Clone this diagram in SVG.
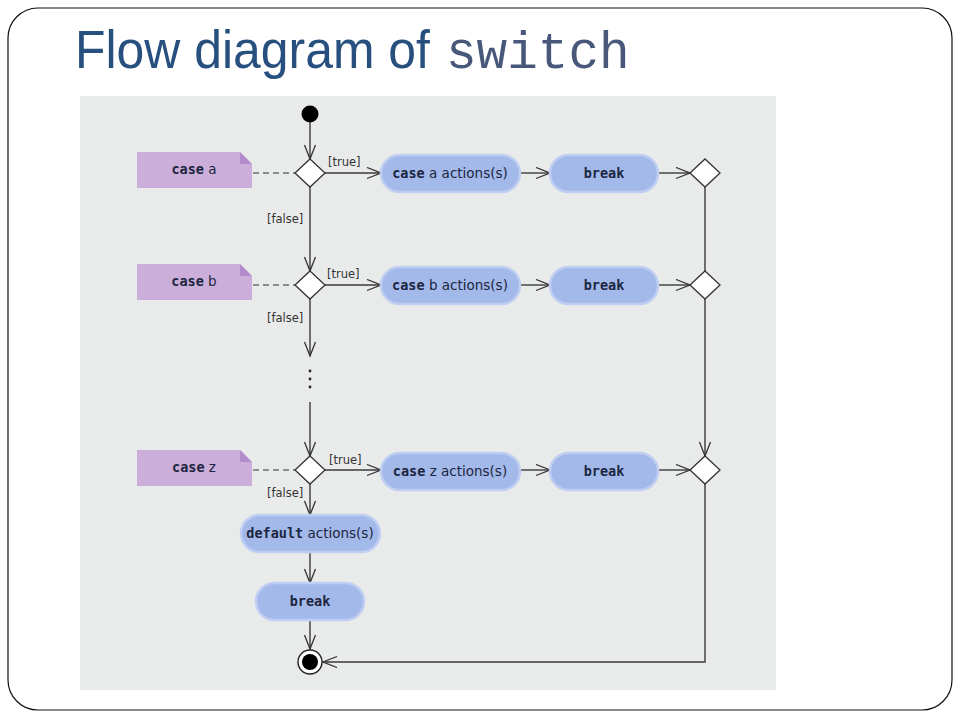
<svg xmlns="http://www.w3.org/2000/svg" width="960" height="720" viewBox="0 0 960 720">
<defs>
<marker id="arr" markerUnits="userSpaceOnUse" markerWidth="18" markerHeight="14" refX="15" refY="6" orient="auto">
<path d="M1,0.5 L15,6 L1,11.5" fill="none" stroke="#333" stroke-width="1.3"/>
</marker>
<style>
.frame{fill:#fff;stroke:#111;stroke-width:1.2}
.panel{fill:#E9EBEA}
.ln{fill:none;stroke:#3a3a3a;stroke-width:1.4}
.dash{fill:none;stroke:#333;stroke-width:1.2;stroke-dasharray:6,4}
.dia{fill:#fff;stroke:#333;stroke-width:1.3}
.pill{fill:#A3B9EA;stroke:#BFCEF2;stroke-width:2.5}
.note{fill:#CBAED9}
.fold{fill:#B58CCB}
.lbl{font-family:"DejaVu Sans",sans-serif;font-size:11.5px;fill:#333}
.t{font-family:"DejaVu Sans",sans-serif;font-size:13.5px;fill:#1c2540}
.m{font-family:"DejaVu Sans Mono",monospace;font-weight:bold;font-size:13.5px;fill:#1c2540}
</style>
</defs>
<rect class="frame" x="8" y="8" width="944" height="702" rx="30"/>
<text x="75" y="68" font-family="Liberation Sans, sans-serif" font-size="54" fill="#27507F" textLength="355" lengthAdjust="spacingAndGlyphs">Flow diagram of</text>
<text x="446" y="68" font-family="Liberation Mono, monospace" font-size="51" fill="#48587a">switch</text>
<rect class="panel" x="80" y="96" width="696" height="594"/>

<g id="connectors">
<line class="ln" x1="310" y1="122" x2="310" y2="159" marker-end="url(#arr)"/>
<line class="ln" x1="310" y1="187" x2="310" y2="271" marker-end="url(#arr)"/>
<line class="ln" x1="310" y1="299" x2="310" y2="356" marker-end="url(#arr)"/>
<circle cx="310" cy="371" r="1.4" fill="#222"/>
<circle cx="310" cy="379" r="1.4" fill="#222"/>
<circle cx="310" cy="387" r="1.4" fill="#222"/>
<line class="ln" x1="310" y1="402" x2="310" y2="456" marker-end="url(#arr)"/>
<line class="ln" x1="310" y1="484" x2="310" y2="515" marker-end="url(#arr)"/>
<line class="ln" x1="310" y1="553" x2="310" y2="583" marker-end="url(#arr)"/>
<line class="ln" x1="310" y1="621" x2="310" y2="649" marker-end="url(#arr)"/>

<line class="dash" x1="253" y1="173" x2="295" y2="173"/>
<line class="dash" x1="253" y1="285" x2="295" y2="285"/>
<line class="dash" x1="253" y1="470" x2="295" y2="470"/>

<line class="ln" x1="325" y1="173" x2="381" y2="173" marker-end="url(#arr)"/>
<line class="ln" x1="520" y1="173" x2="550" y2="173" marker-end="url(#arr)"/>
<line class="ln" x1="658" y1="173" x2="690" y2="173" marker-end="url(#arr)"/>
<line class="ln" x1="325" y1="285" x2="381" y2="285" marker-end="url(#arr)"/>
<line class="ln" x1="520" y1="285" x2="550" y2="285" marker-end="url(#arr)"/>
<line class="ln" x1="658" y1="285" x2="690" y2="285" marker-end="url(#arr)"/>
<line class="ln" x1="325" y1="470" x2="381" y2="470" marker-end="url(#arr)"/>
<line class="ln" x1="520" y1="470" x2="550" y2="470" marker-end="url(#arr)"/>
<line class="ln" x1="658" y1="470" x2="690" y2="470" marker-end="url(#arr)"/>

<line class="ln" x1="705" y1="187" x2="705" y2="271"/>
<line class="ln" x1="705" y1="299" x2="705" y2="456" marker-end="url(#arr)"/>
<polyline class="ln" points="705,484 705,662 323,662" marker-end="url(#arr)"/>

<text class="lbl" x="328" y="166">[true]</text>
<text class="lbl" x="267" y="223">[false]</text>
<text class="lbl" x="327" y="278">[true]</text>
<text class="lbl" x="267" y="322">[false]</text>
<text class="lbl" x="329" y="464">[true]</text>
<text class="lbl" x="267" y="497">[false]</text>
</g>

<g id="start"><circle cx="310" cy="114" r="8.5" fill="#000"/></g>

<g id="dec1"><polygon class="dia" points="310,159 325,173 310,187 295,173"/></g>
<g id="dec2"><polygon class="dia" points="310,271 325,285 310,299 295,285"/></g>
<g id="dec3"><polygon class="dia" points="310,456 325,470 310,484 295,470"/></g>
<g id="merge1"><polygon class="dia" points="705,159 720,173 705,187 690,173"/></g>
<g id="merge2"><polygon class="dia" points="705,271 720,285 705,299 690,285"/></g>
<g id="merge3"><polygon class="dia" points="705,456 720,470 705,484 690,470"/></g>

<g id="noteA">
<polygon class="note" points="137,152 240,152 252,164 252,188 137,188"/>
<polygon class="fold" points="240,152 252,164 240,164"/>
<text x="194" y="174" text-anchor="middle"><tspan class="m">case</tspan><tspan class="t"> a</tspan></text>
</g>
<g id="noteB">
<polygon class="note" points="137,264 240,264 252,276 252,300 137,300"/>
<polygon class="fold" points="240,264 252,276 240,276"/>
<text x="194" y="286" text-anchor="middle"><tspan class="m">case</tspan><tspan class="t"> b</tspan></text>
</g>
<g id="noteZ">
<polygon class="note" points="137,450 240,450 252,462 252,486 137,486"/>
<polygon class="fold" points="240,450 252,462 240,462"/>
<text x="194" y="472" text-anchor="middle"><tspan class="m">case</tspan><tspan class="t"> z</tspan></text>
</g>

<g id="actA">
<rect class="pill" x="381" y="155" width="139" height="37" rx="18.5"/>
<text x="450" y="178" text-anchor="middle"><tspan class="m">case</tspan><tspan class="t"> a actions(s)</tspan></text>
</g>
<g id="breakA">
<rect class="pill" x="550" y="155" width="108" height="37" rx="18.5"/>
<text class="m" x="604" y="178" text-anchor="middle">break</text>
</g>
<g id="actB">
<rect class="pill" x="381" y="267" width="139" height="37" rx="18.5"/>
<text x="450" y="290" text-anchor="middle"><tspan class="m">case</tspan><tspan class="t"> b actions(s)</tspan></text>
</g>
<g id="breakB">
<rect class="pill" x="550" y="267" width="108" height="37" rx="18.5"/>
<text class="m" x="604" y="290" text-anchor="middle">break</text>
</g>
<g id="actZ">
<rect class="pill" x="381" y="453" width="139" height="37" rx="18.5"/>
<text x="450" y="476" text-anchor="middle"><tspan class="m">case</tspan><tspan class="t"> z actions(s)</tspan></text>
</g>
<g id="breakZ">
<rect class="pill" x="550" y="453" width="108" height="37" rx="18.5"/>
<text class="m" x="604" y="476" text-anchor="middle">break</text>
</g>
<g id="actDefault">
<rect class="pill" x="241" y="515" width="139" height="37" rx="18.5"/>
<text x="310" y="538" text-anchor="middle"><tspan class="m">default</tspan><tspan class="t"> actions(s)</tspan></text>
</g>
<g id="breakDefault">
<rect class="pill" x="256" y="583" width="108" height="37" rx="18.5"/>
<text class="m" x="310" y="606" text-anchor="middle">break</text>
</g>

<g id="end">
<circle cx="310" cy="662" r="12" fill="#fff" stroke="#222" stroke-width="1.4"/>
<circle cx="310" cy="662" r="8" fill="#000"/>
</g>
</svg>
